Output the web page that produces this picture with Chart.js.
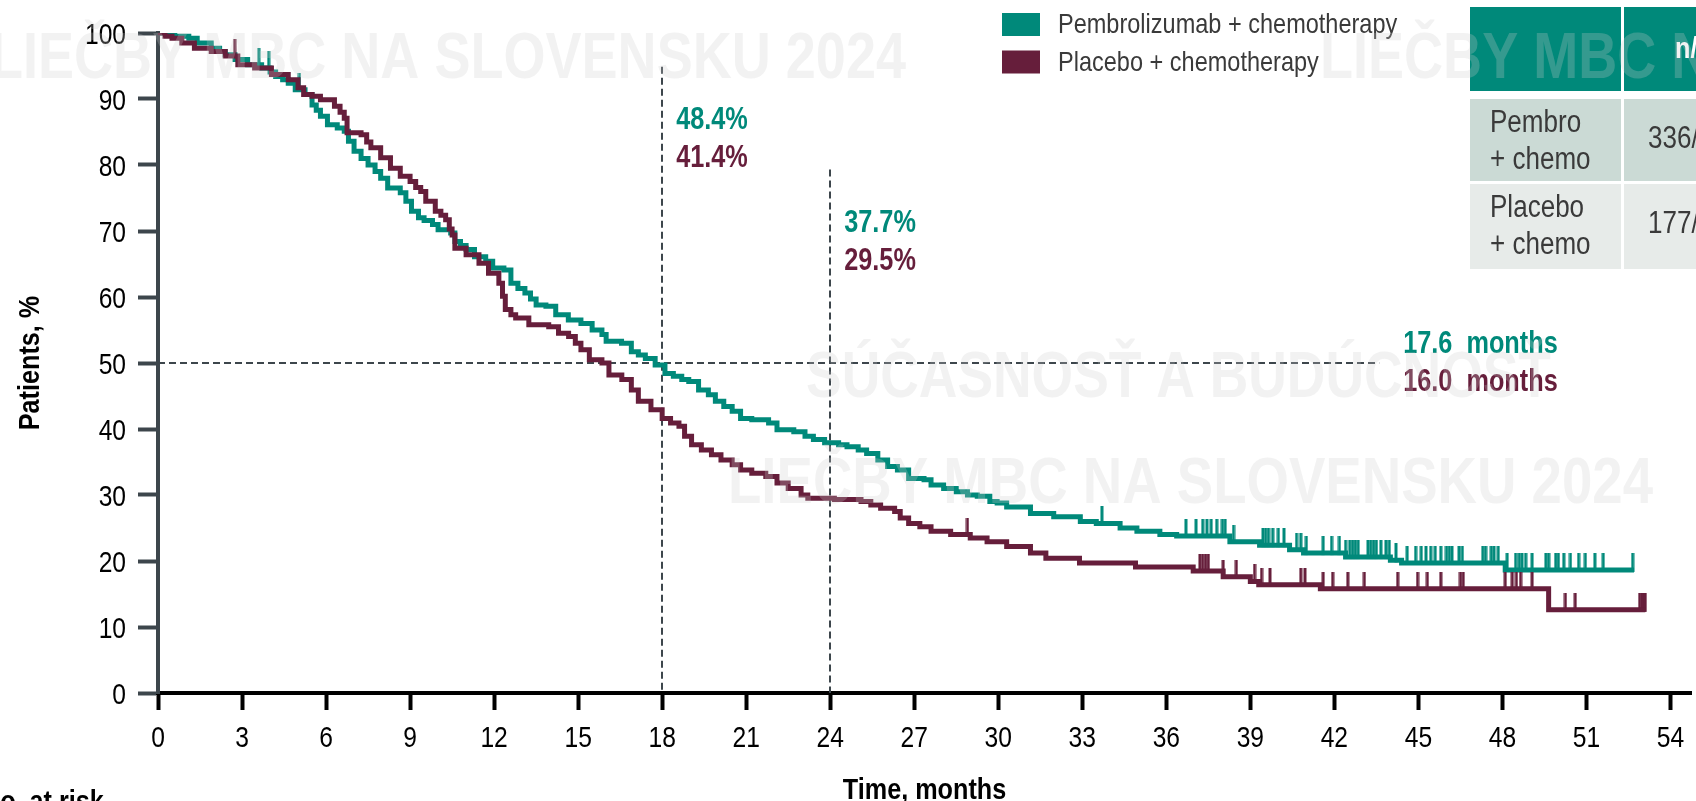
<!DOCTYPE html>
<html>
<head>
<meta charset="utf-8">
<script src="https://cdn.jsdelivr.net/npm/chart.js@4.4.1/dist/chart.umd.min.js"></script>
<style>
html,body{margin:0;padding:0;background:#fff;overflow:hidden}
#wrap{position:relative;width:1696px;height:801px}
canvas{display:block}
</style>
</head>
<body>
<div id="wrap"><canvas id="c" width="1696" height="801"></canvas></div>
<script>
// ---------------- DATA ----------------
const seriesLabels = ['Pembrolizumab + chemotherapy', 'Placebo + chemotherapy'];
const xTickValues = [0,3,6,9,12,15,18,21,24,27,30,33,36,39,42,45,48,51,54];
const yTickValues = [0,10,20,30,40,50,60,70,80,90,100];
const xTitle = 'Time, months';
const yTitle = 'Patients, %';

const pembroTime = [0,0.3,0.6,1.1,1.4,1.9,2.2,2.4,2.75,3.2,3.7,4.0,4.2,4.45,4.65,4.9,5.25,5.5,5.65,5.8,6.05,6.4,6.65,6.8,7.0,7.25,7.5,7.75,7.95,8.2,8.65,8.85,9.05,9.3,9.5,9.8,10.0,10.45,10.6,10.8,11.0,11.3,11.7,11.95,12.35,12.6,12.85,13.1,13.3,13.5,13.85,14.2,14.65,15.1,15.5,15.85,16.0,16.55,16.9,17.15,17.4,17.75,18.1,18.4,18.7,18.95,19.3,19.65,19.9,20.2,20.5,20.8,21.2,21.8,22.1,22.7,23.1,23.4,23.8,24.3,24.6,25.0,25.3,25.7,26.05,26.4,26.8,27.35,27.6,28.05,28.5,28.9,29.25,29.7,29.96,30.3,31.15,31.98,32.93,33.5,34.35,34.95,35.77,36.37,38.27,39.33,40.4,40.9,42.4,44.0,44.4,48.1,52.7];
const pembroSurv = [100,99.8,99.5,99.2,98.5,97.7,97.2,96.7,96.0,95.2,94.7,94.1,93.4,92.9,92.4,91.4,90.7,89.1,88.3,87.4,86.1,85.6,85.1,83.6,82.1,81.0,80.0,79.0,78.0,76.5,75.8,74.5,73.0,72.0,71.6,71.0,70.2,69.7,68.4,67.8,67.2,66.1,65.4,64.4,64.1,62.1,61.3,60.6,59.7,58.8,58.6,57.3,56.5,56.0,55.0,54.3,53.3,53.0,51.7,51.2,50.7,49.7,48.4,48.0,47.5,47.2,45.9,45.2,44.2,43.4,42.7,41.6,41.4,40.9,39.9,39.6,38.9,38.4,37.9,37.6,37.3,36.8,36.3,35.3,34.3,33.8,32.5,32.3,31.5,31.0,30.5,30.0,29.8,29.0,28.8,28.2,27.2,26.7,26.0,25.7,25.0,24.5,24.0,23.8,22.9,22.4,21.7,21.2,20.6,20.1,19.7,18.65,18.65];

const placeboTime = [0,0.25,0.5,0.85,1.3,1.9,2.4,2.85,3.45,4.05,4.65,5.0,5.2,5.5,5.8,6.3,6.5,6.65,6.75,7.25,7.45,7.6,7.95,8.3,8.65,9.0,9.2,9.38,9.56,9.9,10.1,10.27,10.4,10.5,10.6,11.0,11.46,11.8,12.17,12.3,12.4,12.6,12.77,13.24,13.95,14.3,14.66,14.9,15.1,15.4,15.85,16.1,16.56,16.9,17.15,17.6,18.0,18.3,18.6,18.8,19.05,19.4,19.76,20.1,20.5,20.8,21.2,21.7,22.1,22.5,22.96,23.2,24.15,25.1,25.45,25.8,26.3,26.5,26.8,27.2,27.6,28.3,29.0,29.6,30.3,31.15,31.7,32.9,34.9,36.96,38.03,39.0,39.3,41.5,49.65,53.1];
const placeboSurv = [100,99.5,99.2,98.5,97.7,97.2,96.5,95.2,94.7,93.7,92.9,91.7,90.7,90.4,89.9,88.9,88.0,87.1,84.9,84.6,83.5,82.6,81.1,79.5,78.3,77.5,76.6,76.0,74.5,73.0,72.4,71.7,70.3,69.4,67.4,66.4,65.1,63.6,62.1,60.1,58.1,57.3,56.8,55.8,55.5,54.5,54.0,53.0,52.0,50.5,50.0,48.2,47.5,45.9,44.2,42.9,41.6,40.9,40.4,38.9,37.6,36.8,36.1,35.3,34.6,33.8,33.3,32.8,31.8,31.0,30.0,29.5,29.3,29.0,28.5,28.0,27.5,26.5,25.7,25.2,24.5,24.0,23.5,22.9,22.2,21.2,20.4,19.7,19.1,18.5,17.6,16.9,16.4,15.8,12.6,12.6];

const pembroCensor = [3.6,3.95,5.05,33.7,36.7,37.06,37.3,37.45,37.6,37.8,38.0,38.1,38.4,39.45,39.55,39.65,39.8,40.0,40.2,40.65,40.8,41.0,41.6,41.9,42.18,42.4,42.55,42.65,42.75,42.85,43.2,43.3,43.4,43.5,43.66,43.84,43.96,44.2,44.6,44.9,45.1,45.27,45.44,45.6,45.8,46.0,46.1,46.2,46.45,46.57,47.3,47.4,47.6,47.7,47.85,48.17,48.47,48.6,48.7,48.83,49.06,49.55,49.65,49.9,50.0,50.19,50.43,50.72,50.96,51.3,51.6,52.65];
const placeboCensor = [2.74,28.9,37.2,37.3,37.4,37.5,38.03,38.5,39.15,39.4,39.7,40.8,40.95,41.6,41.94,42.48,43.07,44.26,44.97,45.32,45.8,46.5,46.6,48.1,48.35,48.5,48.65,49.06,50.25,50.6,52.9,52.98,53.05,53.1];

const landmarkMonths = [18, 24];
const landmarkLineTop = [94.9, 79.3];
const landmarkPembro = ['48.4%', '37.7%'];
const landmarkPlacebo = ['41.4%', '29.5%'];
const medianLineEnd = 43.6;
const medianLabels = ['17.6  months', '16.0  months'];
const tableHeader = ['', 'n/'];
const tableRows = [['Pembro', '+ chemo', '336/'], ['Placebo', '+ chemo', '177/']];
const riskLabel = 'No. at risk';
const watermarkTexts = ['LIEČBY MBC NA SLOVENSKU 2024', 'SÚČASNOSŤ A BUDÚCNOSŤ'];

// ---------------- STYLE ----------------
const FONT = "'Liberation Sans',Arial,sans-serif";
const SQUEEZE = 0.84;
const TEAL = '#00897a';
const MAROON = '#661e3b';
const AXIS = '#3d464c';
const TEXT = '#3a3a3a';
Chart.defaults.font.family = FONT;

const toXY = (ts, vs) => ts.map((t, i) => ({x: t, y: vs[i]}));
function survAt(ts, vs, t) {
  let v = vs[0];
  for (let i = 0; i < ts.length; i++) { if (ts[i] <= t) v = vs[i]; else break; }
  return v;
}
function tickImg(color) {
  const c = document.createElement('canvas');
  c.width = 4; c.height = 34;
  const g = c.getContext('2d');
  g.fillStyle = color;
  g.fillRect(0.5, 0, 3, 19);
  return c;
}
// draw horizontally condensed text (narrow face emulation)
function narrowText(ctx, text, x, y, align, sx) {
  sx = sx || SQUEEZE;
  const w = ctx.measureText(text).width * sx;
  let left = x;
  if (align === 'right') left = x - w;
  else if (align === 'center') left = x - w / 2;
  ctx.save();
  ctx.translate(left, y);
  ctx.scale(sx, 1);
  ctx.textAlign = 'left';
  ctx.fillText(text, 0, 0);
  ctx.restore();
}
function fitText(ctx, text, left, right, baseline) {
  const w = ctx.measureText(text).width;
  ctx.save();
  ctx.translate(left, baseline);
  ctx.scale((right - left) / w, 1);
  ctx.textAlign = 'left';
  ctx.textBaseline = 'alphabetic';
  ctx.fillText(text, 0, 0);
  ctx.restore();
}

const overlay = {
  id: 'overlay',
  beforeDatasetsDraw(chart) {
    const {ctx, scales: {x, y}} = chart;
    ctx.save();
    ctx.strokeStyle = AXIS;
    ctx.lineWidth = 2;
    ctx.setLineDash([7, 4]);
    landmarkMonths.forEach((m, i) => {
      const px = Math.round(x.getPixelForValue(m));
      ctx.beginPath();
      ctx.moveTo(px, y.getPixelForValue(landmarkLineTop[i]));
      ctx.lineTo(px, y.getPixelForValue(0));
      ctx.stroke();
    });
    const py = Math.round(y.getPixelForValue(50));
    ctx.beginPath();
    ctx.moveTo(x.getPixelForValue(0), py);
    ctx.lineTo(x.getPixelForValue(medianLineEnd), py);
    ctx.stroke();
    ctx.restore();
  },
  afterDraw(chart) {
    const {ctx, scales: {x, y}, chartArea} = chart;
    ctx.save();
    ctx.textBaseline = 'alphabetic';

    // tick labels (condensed), positioned by the scales
    ctx.fillStyle = '#000';
    ctx.font = "30px " + FONT;
    x.ticks.forEach(t => narrowText(ctx, String(t.value), x.getPixelForValue(t.value), 747, 'center', 0.82));
    y.ticks.forEach(t => narrowText(ctx, String(t.value), 126, y.getPixelForValue(t.value) + 11, 'right', 0.82));

    // axis titles
    ctx.font = "bold 30px " + FONT;
    narrowText(ctx, xTitle, (chartArea.left + chartArea.right) / 2, 799, 'center');
    ctx.save();
    ctx.translate(39, (chartArea.top + chartArea.bottom) / 2);
    ctx.rotate(-Math.PI / 2);
    narrowText(ctx, yTitle, 0, 0, 'center');
    ctx.restore();
    narrowText(ctx, riskLabel, -18, 811, 'left');

    // landmark annotations
    ctx.font = "bold 32px " + FONT;
    ctx.textBaseline = 'middle';
    landmarkMonths.forEach((m, i) => {
      const px = x.getPixelForValue(m) + 14;
      const top = y.getPixelForValue(landmarkLineTop[i]);
      ctx.fillStyle = TEAL; narrowText(ctx, landmarkPembro[i], px, top + 54, 'left', 0.79);
      ctx.fillStyle = MAROON; narrowText(ctx, landmarkPlacebo[i], px, top + 92, 'left', 0.79);
    });
    const mx = x.getPixelForValue(medianLineEnd) + 24;
    const my = y.getPixelForValue(50);
    ctx.fillStyle = TEAL; narrowText(ctx, medianLabels[0], mx, my - 19, 'left', 0.79);
    ctx.fillStyle = MAROON; narrowText(ctx, medianLabels[1], mx, my + 19, 'left', 0.79);

    // legend
    const colors = [TEAL, MAROON];
    ctx.font = "28px " + FONT;
    seriesLabels.forEach((lab, i) => {
      const cy = 24.5 + i * 37.5;
      ctx.fillStyle = colors[i];
      ctx.fillRect(1002, cy - 11.5, 38, 23);
      ctx.fillStyle = TEXT;
      narrowText(ctx, lab, 1058, cy + 1, 'left');
    });

    // table
    ctx.fillStyle = TEAL;
    ctx.fillRect(1470, 7, 151, 84);
    ctx.fillRect(1624, 7, 80, 84);
    const rowY = [[99, 82], [184, 85]];
    const rowFill = ['#cbdad5', '#e7ebe9'];
    rowY.forEach((r, i) => {
      ctx.fillStyle = rowFill[i];
      ctx.fillRect(1470, r[0], 151, r[1]);
      ctx.fillRect(1624, r[0], 80, r[1]);
    });
    ctx.fillStyle = '#fff';
    ctx.font = "bold 30px " + FONT;
    ctx.textBaseline = 'middle';
    narrowText(ctx, tableHeader[1], 1675, 50, 'left');
    ctx.font = "31px " + FONT;
    ctx.fillStyle = TEXT;
    tableRows.forEach((row, i) => {
      const top = rowY[i][0];
      ctx.textBaseline = 'alphabetic';
      narrowText(ctx, row[0], 1490, top + 33, 'left');
      narrowText(ctx, row[1], 1490, top + 70, 'left');
      ctx.textBaseline = 'middle';
      narrowText(ctx, row[2], 1648, top + 40, 'left');
    });

    // watermark
    ctx.fillStyle = 'rgba(205,205,205,0.26)';
    ctx.font = "bold 65px " + FONT;
    fitText(ctx, watermarkTexts[0], -10, 906, 78);
    fitText(ctx, watermarkTexts[0], 1320, 2236, 78);
    fitText(ctx, watermarkTexts[1], 806, 1551, 397);
    fitText(ctx, watermarkTexts[0], 728, 1653, 503);
    ctx.restore();
  }
};

const XMAX = (1696 - 158) / 28.1;

new Chart(document.getElementById('c').getContext('2d'), {
  type: 'line',
  data: {
    datasets: [
      {label: seriesLabels[0], data: toXY(pembroTime, pembroSurv), borderColor: TEAL, backgroundColor: TEAL,
       borderWidth: 5, stepped: 'before', pointRadius: 0, fill: false, order: 2},
      {label: seriesLabels[1], data: toXY(placeboTime, placeboSurv), borderColor: MAROON, backgroundColor: MAROON,
       borderWidth: 5, stepped: 'before', pointRadius: 0, fill: false, order: 1},
      {type: 'scatter', label: 'Censored (pembro)', data: pembroCensor.map(t => ({x: t, y: survAt(pembroTime, pembroSurv, t)})),
       pointStyle: tickImg(TEAL), pointRadius: 1, showLine: false, order: 2},
      {type: 'scatter', label: 'Censored (placebo)', data: placeboCensor.map(t => ({x: t, y: survAt(placeboTime, placeboSurv, t)})),
       pointStyle: tickImg(MAROON), pointRadius: 1, showLine: false, order: 1}
    ]
  },
  options: {
    responsive: false, animation: false, devicePixelRatio: 1, events: [],
    layout: {padding: {top: 33, left: 0, right: 0, bottom: 0}},
    plugins: {legend: {display: false}, tooltip: {enabled: false}},
    scales: {
      x: {
        type: 'linear', min: 0, max: XMAX,
        afterBuildTicks: s => { s.ticks = xTickValues.map(v => ({value: v})); },
        ticks: {display: false},
        grid: {drawOnChartArea: false, drawTicks: true, tickLength: 17, tickWidth: 4, tickColor: '#000'},
        border: {color: '#000', width: 4},
        afterFit: s => { s.height = 108; }
      },
      y: {
        type: 'linear', min: 0, max: 100,
        afterBuildTicks: s => { s.ticks = yTickValues.map(v => ({value: v})); },
        ticks: {display: false},
        grid: {drawOnChartArea: false, drawTicks: true, tickLength: 20, tickWidth: 4, tickColor: AXIS},
        border: {color: AXIS, width: 4},
        afterFit: s => { s.width = 158; }
      }
    }
  },
  plugins: [overlay]
});
</script>
</body>
</html>
